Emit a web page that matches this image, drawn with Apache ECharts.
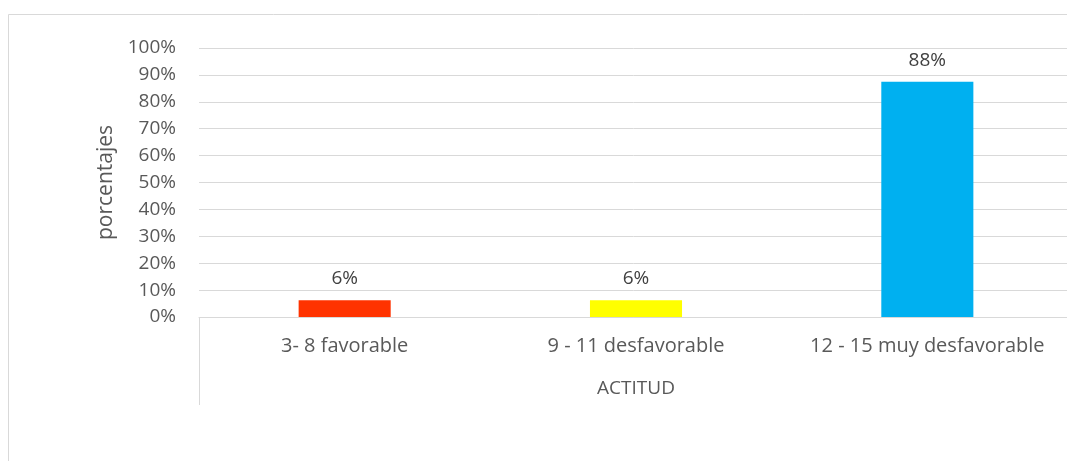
<!DOCTYPE html>
<html><head><meta charset="utf-8">
<script src="https://cdn.jsdelivr.net/npm/echarts@6/dist/echarts.min.js"></script>
<style>html,body{margin:0;padding:0;background:#fff}#c{width:1067px;height:461px}</style>
</head><body><div id="c"></div>
<script>
const categories = ['3- 8 favorable', '9 - 11 desfavorable', '12 - 15 muy desfavorable'];
const values = [6.25, 6.25, 87.5];
const barColors = ['#FF3300', '#FFFF00', '#00B0F0'];
const xTitle = 'ACTITUD';
const yTitle = 'porcentajes';

const FONT = 'Open Sans';
const TXT = '#595959';
const chart = echarts.init(document.getElementById('c'), null, {renderer: 'canvas'});
chart.setOption({
  animation: false,
  backgroundColor: '#fff',
  grid: {left: 199, width: 874, top: 48, bottom: 144, containLabel: false, outerBoundsMode: 'none'},
  graphic: [
    {type: 'rect', shape: {x: 8.5, y: 14.5, width: 1200, height: 600}, style: {fill: 'none', stroke: '#d9d9d9', lineWidth: 1}, silent: true},
    {type: 'line', shape: {x1: 199.5, y1: 317, x2: 199.5, y2: 405}, style: {stroke: '#d9d9d9', lineWidth: 1}, silent: true}
  ],
  xAxis: {
    type: 'category', data: categories,
    name: xTitle, nameLocation: 'middle', nameGap: 62,
    nameTextStyle: {color: TXT, fontFamily: FONT, fontSize: 19},
    axisLine: {lineStyle: {color: '#d9d9d9', width: 1}},
    axisTick: {show: false},
    axisLabel: {color: TXT, fontFamily: FONT, fontSize: 20, margin: 19, interval: 0, hideOverlap: false}
  },
  yAxis: {
    type: 'value', min: 0, max: 100, interval: 10,
    name: yTitle, nameLocation: 'middle', nameGap: 81, nameRotate: 90,
    nameTextStyle: {color: TXT, fontFamily: FONT, fontSize: 21},
    axisLine: {show: false}, axisTick: {show: false},
    axisLabel: {color: TXT, fontFamily: FONT, fontSize: 19, margin: 23, formatter: v => v + '%'},
    splitLine: {lineStyle: {color: '#d9d9d9', width: 1}}
  },
  series: [{
    type: 'bar', barWidth: '31.6%',
    data: values.map((v, i) => ({value: v, itemStyle: {color: barColors[i]}})),
    label: {show: true, position: 'top', distance: 12, color: '#404040', fontFamily: FONT, fontSize: 19,
      formatter: p => Math.round(p.value) + '%'}
  }]
});
</script></body></html>
